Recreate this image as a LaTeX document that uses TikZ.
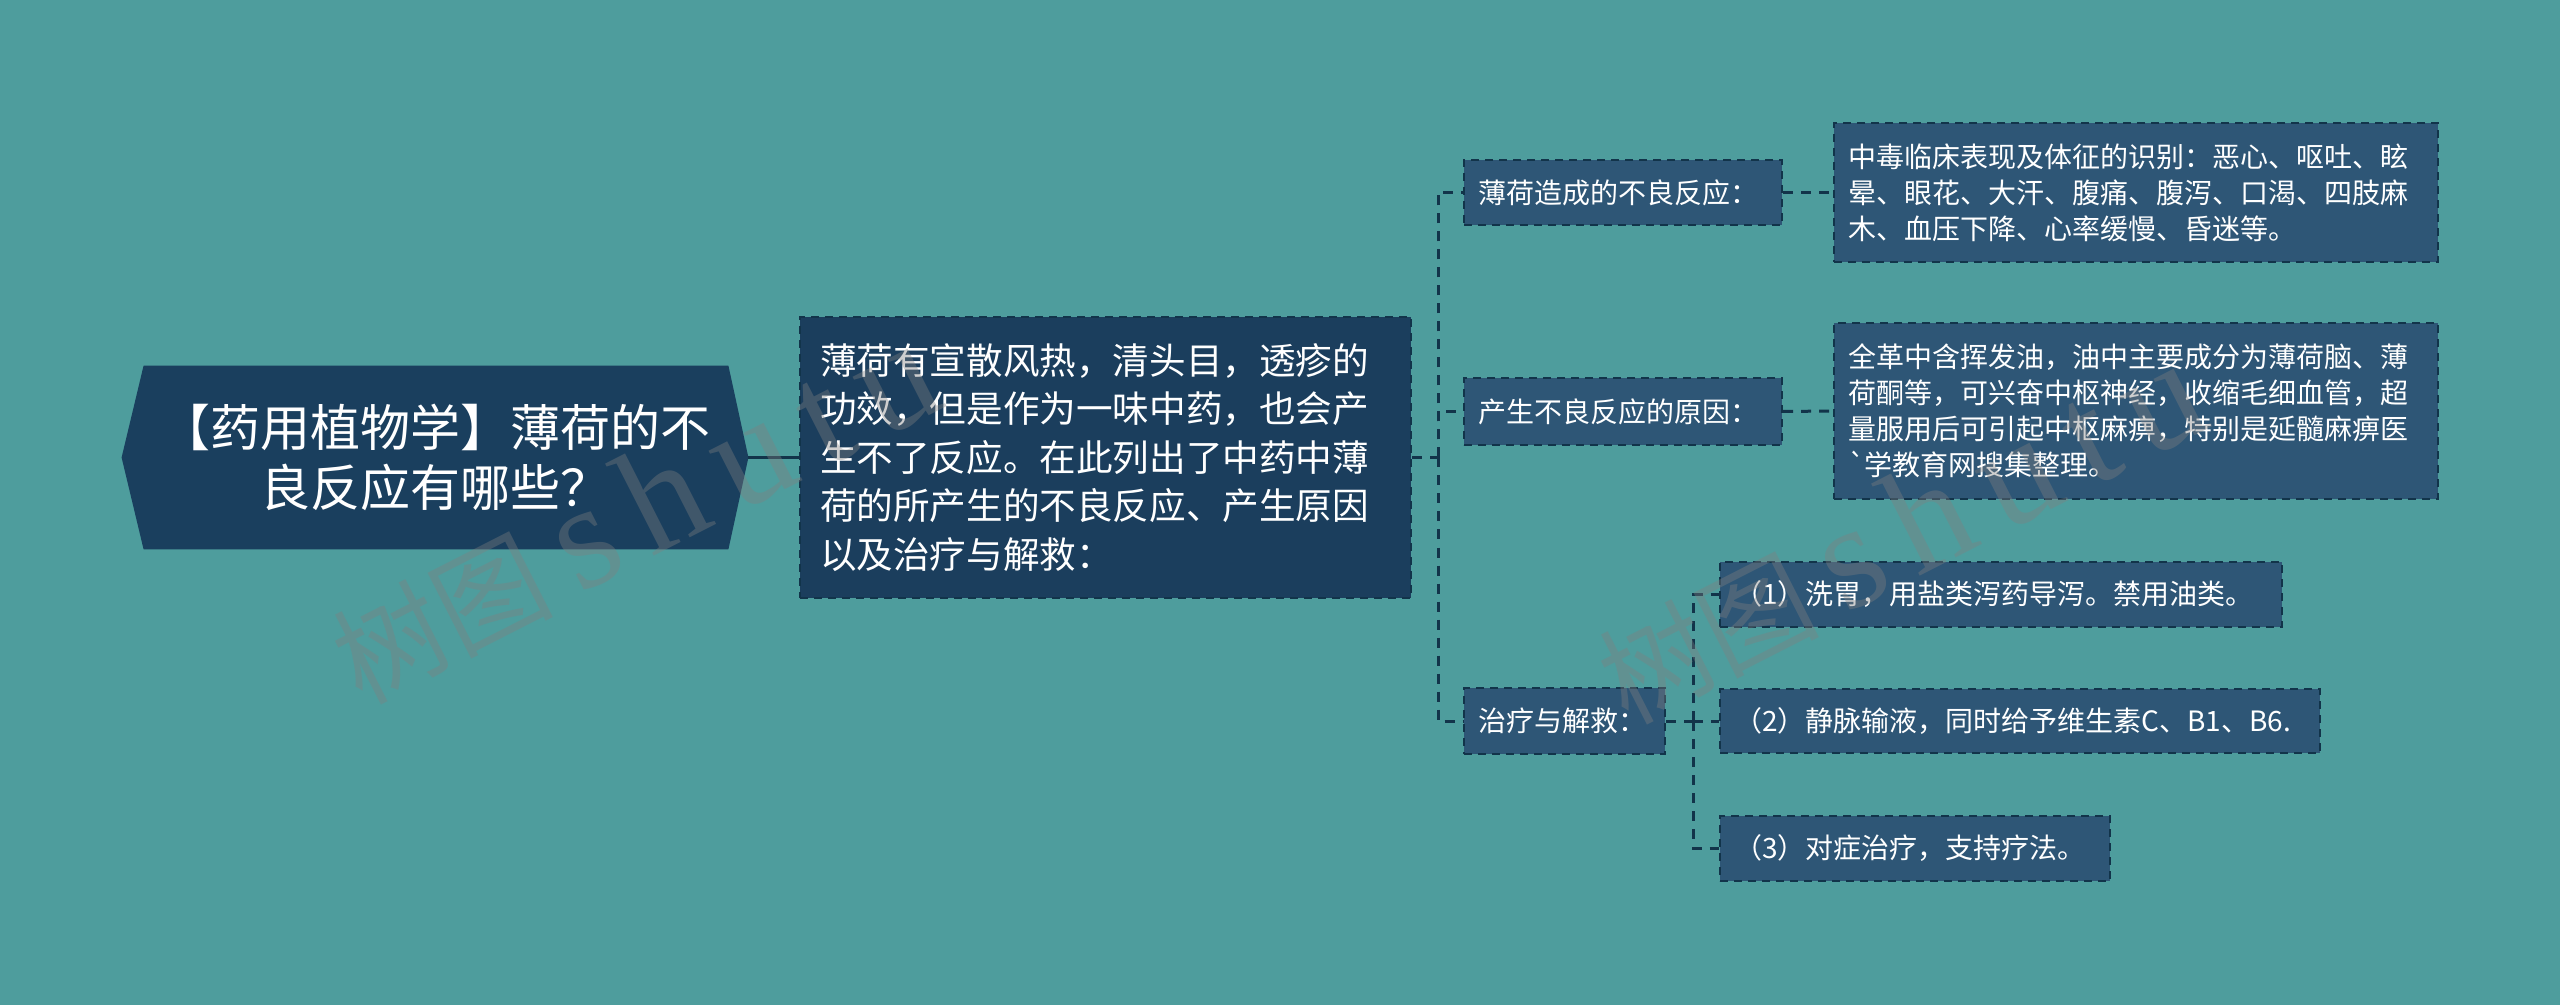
\documentclass[tikz,border=0pt]{standalone}
\usepackage{fontspec}
\newfontfamily\cjk{Noto Sans CJK SC}
\newfontfamily\wmlatin[LetterSpace=15]{Liberation Serif}
\usetikzlibrary{calc,backgrounds}
\definecolor{bgc}{RGB}{78,157,157}
\definecolor{rootc}{RGB}{26,63,94}
\definecolor{mainc}{RGB}{27,62,93}
\definecolor{boxc}{RGB}{46,86,118}
\definecolor{linec}{RGB}{18,52,74}
\tikzset{
  basebox/.style={rectangle, inner ysep=0pt, text=white, font=\cjk, align=left},
  mainbox/.style={basebox, fill=mainc, draw=linec, line width=1pt, dash pattern=on 4pt off 3pt,
     inner xsep=10pt, text width=285.5pt, minimum height=140.5pt,
     font=\cjk\fontsize{18.3pt}{24.25pt}\selectfont},
  smallbox/.style={basebox, fill=boxc, draw=linec, line width=1pt, dash pattern=on 4pt off 3pt,
     inner xsep=7pt, font=\cjk\fontsize{14pt}{18pt}\selectfont},
  conn/.style={draw=linec, line width=1.5pt, dash pattern=on 5pt off 4pt},
  solidconn/.style={draw=linec, line width=1.5pt},
  wm/.style={text=gray, text opacity=0.38, inner sep=0pt, font=\cjk\fontsize{55pt}{60pt}\selectfont}
}
\begin{document}
\begin{tikzpicture}[x=0.5pt,y=-0.5pt]
\useasboundingbox (0,0) rectangle (2560,1005);

% root
\node[rectangle, inner sep=0pt, minimum width=313pt, minimum height=91.5pt, text=white,
      align=center, font=\cjk\fontsize{25pt}{30pt}\selectfont] (root) at (435,457.5)
  {【药用植物学】薄荷的不\\良反应有哪些？};
\begin{scope}[on background layer]
\fill[bgc] (0,0) rectangle (2560,1005);
\fill[rootc] (root.west) -- ([xshift=11pt]root.north west) -- ([xshift=-10pt]root.north east)
  -- (root.east) -- ([xshift=-10pt]root.south east) -- ([xshift=11pt]root.south west) -- cycle;
\end{scope}

% main
\node[mainbox] (main) at (1105.5,457.5)
  {薄荷有宣散风热，清头目，透疹的\\功效，但是作为一味中药，也会产\\生不了反应。在此列出了中药中薄\\荷的所产生的不良反应、产生原因\\以及治疗与解救：};

% level 2
\node[smallbox, text width=145pt, minimum height=32.5pt] (l2a) at (1623,192.5) {薄荷造成的不良反应：};
\node[smallbox, text width=145pt, minimum height=33.5pt] (l2b) at (1623,411.5) {产生不良反应的原因：};
\node[smallbox, text width=86.5pt, minimum height=33pt] (l2c) at (1564.5,721) {治疗与解救：};

% level 3
\node[smallbox, text width=288pt, minimum height=69.5pt] (l3a) at (2136,192.5)
  {中毒临床表现及体征的识别：恶心、呕吐、眩\\晕、眼花、大汗、腹痛、腹泻、口渴、四肢麻\\木、血压下降、心率缓慢、昏迷等。};
\node[smallbox, text width=288pt, minimum height=88pt] (l3b) at (2136,411)
  {全革中含挥发油，油中主要成分为薄荷脑、薄\\荷酮等，可兴奋中枢神经，收缩毛细血管，超\\量服用后可引起中枢麻痹，特别是延髓麻痹医\\`学教育网搜集整理。};

\node[smallbox, text width=267pt, minimum height=32.5pt] (it1) at (2001,594.5) {（1）洗胃，用盐类泻药导泻。禁用油类。};
\node[smallbox, text width=286pt, minimum height=32pt] (it2) at (2020,721) {（2）静脉输液，同时给予维生素C、B1、B6.};
\node[smallbox, text width=181pt, minimum height=32.5pt] (it3) at (1915,848.5) {（3）对症治疗，支持疗法。};

% connectors
\coordinate (j1) at (1438,457.5);
\coordinate (j2) at (1693,721);
\draw[solidconn] (root.east) -- (main.west);
\draw[conn] (main.east) -- (j1);
\draw[conn] (j1) |- (l2a.west);
\draw[conn] (j1) |- (l2b.west);
\draw[conn] (j1) |- (l2c.west);
\draw[conn] (l2a.east) -- (l3a.west);
\draw[conn] (l2b.east) -- (l3b.west);
\draw[conn] (l2c.east) -- (j2);
\draw[conn] (j2) |- (it1.west);
\draw[conn] (j2) -- (it2.west);
\draw[conn] (j2) |- (it3.west);

% watermarks
\node[wm, rotate=27] (wm1) at (634,513) {树图 {\fontsize{75pt}{80pt}\selectfont\wmlatin shutu}};
\node[wm, rotate=27] (wm2) at (1900,533) {树图 {\fontsize{75pt}{80pt}\selectfont\wmlatin shutu}};
\end{tikzpicture}
\end{document}
